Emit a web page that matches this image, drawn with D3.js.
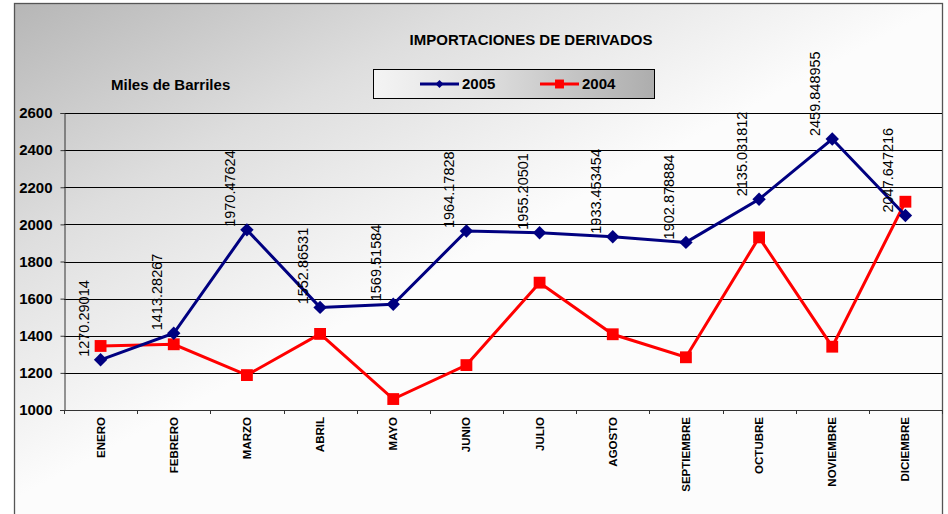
<html>
<head>
<meta charset="utf-8">
<title>Importaciones de derivados</title>
<script src="https://d3js.org/d3.v7.min.js"></script>
<style>
  body { margin: 0; background: #ffffff; }
  text { font-family: Arial, "Liberation Sans", sans-serif; }
</style>
</head>
<body>
<div id="chart"></div>
<script type="text/javascript">
    // data
    var meses = ["ENERO", "FEBRERO", "MARZO", "ABRIL", "MAYO", "JUNIO", "JULIO",
                 "AGOSTO", "SEPTIEMBRE", "OCTUBRE", "NOVIEMBRE", "DICIEMBRE"];
    var serie2005 = [1270.29014, 1413.28267, 1970.47624, 1552.86531, 1569.51584, 1964.17828,
                     1955.20501, 1933.453454, 1902.878884, 2135.031812, 2459.848955, 2047.647216];
    var serie2004 = [1345, 1354, 1188, 1410, 1059, 1242, 1686, 1408, 1284, 1930, 1341, 2122];
    var yTicks = [1000, 1200, 1400, 1600, 1800, 2000, 2200, 2400, 2600];
    var titulo = "IMPORTACIONES DE DERIVADOS";
    var unidad = "Miles de Barriles";

    var w = 948, h = 514;
    var plot = {left: 64, right: 942, top: 113, bottom: 410};

    var svg = d3.select("#chart").append("svg")
        .attr("width", w)
        .attr("height", h);

    // background gradients
    var defs = svg.append("defs");
    var bg = defs.append("linearGradient")
        .attr("id", "bg")
        .attr("gradientUnits", "userSpaceOnUse")
        .attr("x1", 14).attr("y1", 3)
        .attr("x2", 220).attr("y2", 390);
    bg.append("stop").attr("offset", "0%").attr("stop-color", "#b6b6b6");
    bg.append("stop").attr("offset", "50%").attr("stop-color", "#dedede");
    bg.append("stop").attr("offset", "100%").attr("stop-color", "#fcfcfc");

    var lg = defs.append("linearGradient")
        .attr("id", "lg")
        .attr("x1", 0).attr("y1", 0)
        .attr("x2", 1).attr("y2", 0);
    lg.append("stop").attr("offset", "0%").attr("stop-color", "#f4f4f4");
    lg.append("stop").attr("offset", "35%").attr("stop-color", "#e2e2e2");
    lg.append("stop").attr("offset", "100%").attr("stop-color", "#adadad");

    // chart area
    svg.append("rect")
        .attr("x", 14.5).attr("y", 3.5)
        .attr("width", 928).attr("height", 530)
        .attr("fill", "url(#bg)")
        .attr("stroke", "#555")
        .attr("stroke-width", 1.3);

    // scales
    var x = d3.scaleBand()
        .domain(meses)
        .range([plot.left, plot.right]);
    var y = d3.scaleLinear()
        .domain([1000, 2600])
        .range([plot.bottom, plot.top]);
    var cx = function(i) { return x(meses[i]) + x.bandwidth() / 2; };

    // gridlines
    svg.append("g")
        .selectAll("line")
        .data(yTicks.slice(1))
        .enter()
        .append("line")
        .attr("x1", plot.left).attr("x2", plot.right)
        .attr("y1", function(d) { return Math.round(y(d)) + 0.5; })
        .attr("y2", function(d) { return Math.round(y(d)) + 0.5; })
        .attr("stroke", "#000")
        .attr("stroke-width", 1);

    // Y axis
    var yAxis = svg.append("g")
        .attr("transform", "translate(" + (plot.left + 0.5) + ",0)")
        .call(d3.axisLeft(y).tickValues(yTicks).tickSize(4).tickPadding(8).tickFormat(d3.format("d")));
    yAxis.select(".domain").attr("stroke", "#333");
    yAxis.selectAll(".tick line").attr("stroke", "#333");
    yAxis.selectAll("text")
        .attr("font-size", "15px")
        .attr("font-weight", "bold")
        .attr("fill", "#000");

    // X axis with ticks between the categories
    var bounds = d3.range(meses.length + 1).map(function(i) { return plot.left + i * x.bandwidth(); });
    var xg = svg.append("g");
    xg.append("line")
        .attr("x1", plot.left - 4).attr("x2", plot.right)
        .attr("y1", plot.bottom + 0.5).attr("y2", plot.bottom + 0.5)
        .attr("stroke", "#333");
    xg.selectAll(".tk")
        .data(bounds)
        .enter()
        .append("line")
        .attr("class", "tk")
        .attr("x1", function(d) { return Math.round(d) + 0.5; })
        .attr("x2", function(d) { return Math.round(d) + 0.5; })
        .attr("y1", plot.bottom).attr("y2", plot.bottom + 4)
        .attr("stroke", "#333");
    xg.selectAll(".lbl")
        .data(meses)
        .enter()
        .append("text")
        .attr("class", "lbl")
        .attr("transform", function(d, i) {
            return "translate(" + (cx(i) + 4) + "," + (plot.bottom + 7) + ") rotate(-90)";
        })
        .attr("text-anchor", "end")
        .attr("font-size", "11.5px")
        .attr("font-weight", "bold")
        .text(function(d) { return d; });

    // lines
    var line = d3.line()
        .x(function(d, i) { return cx(i); })
        .y(function(d) { return y(d); });

    svg.append("path")
        .attr("d", line(serie2004))
        .attr("fill", "none")
        .attr("stroke", "#ff0000")
        .attr("stroke-width", 3);
    svg.append("path")
        .attr("d", line(serie2005))
        .attr("fill", "none")
        .attr("stroke", "#000080")
        .attr("stroke-width", 3);

    // markers
    var square = d3.symbol().type(d3.symbolSquare).size(140);
    var diamond = d3.symbol().type(d3.symbolSquare).size(90);

    svg.append("g")
        .selectAll("path")
        .data(serie2004)
        .enter()
        .append("path")
        .attr("d", square)
        .attr("transform", function(d, i) { return "translate(" + cx(i) + "," + y(d) + ")"; })
        .attr("fill", "#ff0000");
    svg.append("g")
        .selectAll("path")
        .data(serie2005)
        .enter()
        .append("path")
        .attr("d", diamond)
        .attr("transform", function(d, i) { return "translate(" + cx(i) + "," + y(d) + ") rotate(45)"; })
        .attr("fill", "#000080");

    // value labels for 2005
    svg.append("g")
        .selectAll("text")
        .data(serie2005)
        .enter()
        .append("text")
        .attr("transform", function(d, i) {
            return "translate(" + (cx(i) - 12) + "," + (y(d) - 3) + ") rotate(-90)";
        })
        .attr("font-size", "14.5px")
        .attr("fill", "#000")
        .text(function(d) { return String(d); });

    // titles
    svg.append("text")
        .attr("x", 531).attr("y", 45)
        .attr("text-anchor", "middle")
        .attr("font-size", "15px")
        .attr("font-weight", "bold")
        .text(titulo);
    svg.append("text")
        .attr("x", 111).attr("y", 90)
        .attr("font-size", "15px")
        .attr("font-weight", "bold")
        .text(unidad);

    // legend
    var legend = svg.append("g");
    legend.append("rect")
        .attr("x", 373.5).attr("y", 69.5)
        .attr("width", 281).attr("height", 29)
        .attr("fill", "url(#lg)")
        .attr("stroke", "#000")
        .attr("stroke-width", 1);
    var items = [
        {name: "2005", color: "#000080", sym: d3.symbol().type(d3.symbolSquare).size(32), rot: 45, x0: 420},
        {name: "2004", color: "#ff0000", sym: d3.symbol().type(d3.symbolSquare).size(80), rot: 0, x0: 540}
    ];
    items.forEach(function(it) {
        legend.append("line")
            .attr("x1", it.x0).attr("x2", it.x0 + 39)
            .attr("y1", 84).attr("y2", 84)
            .attr("stroke", it.color)
            .attr("stroke-width", 3);
        legend.append("path")
            .attr("d", it.sym)
            .attr("transform", "translate(" + (it.x0 + 19.5) + ",84) rotate(" + it.rot + ")")
            .attr("fill", it.color);
        legend.append("text")
            .attr("x", it.x0 + 42).attr("y", 89)
            .attr("font-size", "15px")
            .attr("font-weight", "bold")
            .text(it.name);
    });
</script>
</body>
</html>
